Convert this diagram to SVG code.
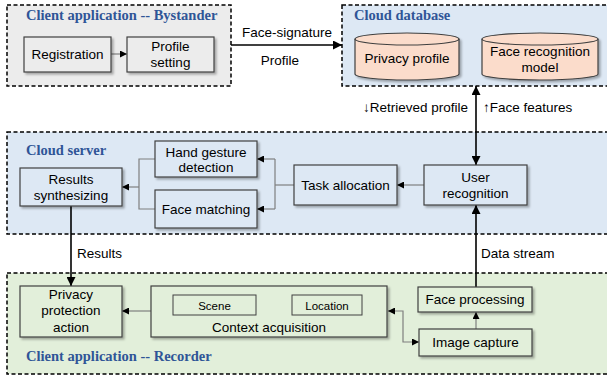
<svg xmlns="http://www.w3.org/2000/svg" width="607" height="379" viewBox="0 0 607 379">
<defs>
<marker id="ah" viewBox="0 0 10 10" refX="10" refY="5" markerWidth="7" markerHeight="7" markerUnits="userSpaceOnUse" orient="auto-start-reverse">
<path d="M0,0 L10,5 L0,10 z" fill="#000"/>
</marker>
<marker id="ahb" viewBox="0 0 10 10" refX="10" refY="5" markerWidth="9" markerHeight="9" markerUnits="userSpaceOnUse" orient="auto-start-reverse">
<path d="M0,0 L10,5 L0,10 z" fill="#000"/>
</marker>
<filter id="sh" x="-10%" y="-10%" width="130%" height="140%">
<feDropShadow dx="2" dy="2" stdDeviation="1.2" flood-color="#000" flood-opacity="0.3"/>
</filter>
</defs>
<style>
.panel{stroke:#000;stroke-width:1.5;stroke-dasharray:4 2.5}
.gray{fill:#ececec}.blue{fill:#dde8f4}.green{fill:#e2efda}
.box{stroke:#404040;stroke-width:1.2;filter:url(#sh)}
.cyl{fill:#fbdccb;stroke:#404040;stroke-width:1.2}
.t{font-family:"Liberation Sans",Arial,sans-serif;font-size:13.5px;fill:#000;text-anchor:middle}
.s{font-size:11.5px}
.l{font-family:"Liberation Sans",Arial,sans-serif;font-size:13.5px;fill:#000}
.title{font-family:"Liberation Serif","Times New Roman",serif;font-weight:bold;font-size:14.5px;fill:#2f5597}
.c{fill:none;stroke:#7f7f7f;stroke-width:1.2}
.k{fill:none;stroke:#000;stroke-width:1.6}
</style>

<g id="panel-bystander">
<rect class="panel gray" x="7" y="5" width="224" height="81"/>
<text class="title" x="26" y="20">Client application -- Bystander</text>
</g>
<g id="panel-clouddb">
<rect class="panel blue" x="342" y="5" width="272" height="81"/>
<text class="title" x="354" y="20">Cloud database</text>
</g>
<g id="panel-cloudserver">
<rect class="panel blue" x="7" y="132" width="607" height="102"/>
<text class="title" x="26" y="155">Cloud server</text>
</g>
<g id="panel-recorder">
<rect class="panel green" x="7" y="273" width="607" height="101"/>
<text class="title" x="26" y="361">Client application -- Recorder</text>
</g>

<g id="connectors">
<line class="c" x1="111" y1="54" x2="127" y2="54" marker-end="url(#ah)"/>
<line class="k" x1="231" y1="45" x2="342" y2="45" marker-end="url(#ahb)"/>
<line class="k" x1="476" y1="86" x2="476" y2="165" marker-start="url(#ahb)" marker-end="url(#ahb)"/>
<line class="c" x1="424" y1="185" x2="397" y2="185" marker-end="url(#ah)"/>
<polyline class="c" points="294,185 275,185"/>
<polyline class="c" points="275,159 275,209"/>
<line class="c" x1="275" y1="159" x2="257" y2="159" marker-end="url(#ah)"/>
<line class="c" x1="275" y1="209" x2="257" y2="209" marker-end="url(#ah)"/>
<polyline class="c" points="155,159 139,159 139,209 155,209"/>
<line class="c" x1="139" y1="187" x2="122" y2="187" marker-end="url(#ah)"/>
<line class="k" x1="71" y1="206" x2="71" y2="286" marker-end="url(#ahb)"/>
<line class="c" x1="151" y1="311" x2="122" y2="311" marker-end="url(#ah)"/>
<polyline class="c" points="388,311 403,311 403,342 419,342" marker-start="url(#ah)" marker-end="url(#ah)"/>
<line class="c" x1="476" y1="329" x2="476" y2="312" marker-end="url(#ah)"/>
<line class="k" x1="476" y1="287" x2="476" y2="205" marker-end="url(#ahb)"/>
<text class="t" x="287" y="37">Face-signature</text>
<text class="t" x="280" y="65">Profile</text>
<text class="l" x="468" y="112" text-anchor="end">↓Retrieved profile</text>
<text class="l" x="483" y="112">↑Face features</text>
<text class="l" x="77" y="258">Results</text>
<text class="l" x="481" y="258">Data stream</text>
</g>

<g id="registration">
<rect class="box gray" x="24" y="37" width="87" height="35"/>
<text class="t" x="67.5" y="59">Registration</text>
</g>
<g id="profile-setting">
<rect class="box gray" x="127" y="37" width="87" height="35"/>
<text class="t" x="170.5" y="51">Profile</text>
<text class="t" x="170.5" y="67">setting</text>
</g>
<g id="privacy-profile">
<path class="cyl" d="M355,39 L355,74 A52,6 0 0 0 459,74 L459,39 A52,6 0 0 0 355,39 Z" filter="url(#sh)"/>
<path d="M355,39 A52,6 0 0 0 459,39" fill="none" stroke="#404040" stroke-width="1.2"/>
<text class="t" x="407" y="63">Privacy profile</text>
</g>
<g id="face-recognition-model">
<path class="cyl" d="M482,39 L482,74 A58,6 0 0 0 598,74 L598,39 A58,6 0 0 0 482,39 Z" filter="url(#sh)"/>
<path d="M482,39 A58,6 0 0 0 598,39" fill="none" stroke="#404040" stroke-width="1.2"/>
<text class="t" x="540" y="56">Face recognition</text>
<text class="t" x="540" y="72">model</text>
</g>
<g id="results-synthesizing">
<rect class="box blue" x="20" y="168" width="102" height="38"/>
<text class="t" x="71" y="184">Results</text>
<text class="t" x="71" y="200">synthesizing</text>
</g>
<g id="hand-gesture-detection">
<rect class="box blue" x="155" y="141" width="102" height="36"/>
<text class="t" x="206" y="157">Hand gesture</text>
<text class="t" x="206" y="172">detection</text>
</g>
<g id="face-matching">
<rect class="box blue" x="155" y="190" width="102" height="38"/>
<text class="t" x="206" y="214">Face matching</text>
</g>
<g id="task-allocation">
<rect class="box blue" x="294" y="165" width="103" height="40"/>
<text class="t" x="345.5" y="190">Task allocation</text>
</g>
<g id="user-recognition">
<rect class="box blue" x="424" y="165" width="103" height="40"/>
<text class="t" x="475.5" y="182">User</text>
<text class="t" x="475.5" y="198">recognition</text>
</g>
<g id="privacy-protection-action">
<rect class="box green" x="20" y="286" width="102" height="51"/>
<text class="t" x="71" y="299">Privacy</text>
<text class="t" x="71" y="315">protection</text>
<text class="t" x="71" y="332">action</text>
</g>
<g id="context-acquisition">
<rect class="box green" x="151" y="286" width="236" height="51"/>
<rect x="173" y="295" width="83" height="20" fill="#e2efda" stroke="#404040" stroke-width="1"/>
<text class="t s" x="214.5" y="309.5">Scene</text>
<rect x="292" y="295" width="70" height="20" fill="#e2efda" stroke="#404040" stroke-width="1"/>
<text class="t s" x="327" y="309.5">Location</text>
<text class="t" x="269" y="332">Context acquisition</text>
</g>
<g id="face-processing">
<rect class="box green" x="418" y="287" width="114" height="25"/>
<text class="t" x="475" y="304">Face processing</text>
</g>
<g id="image-capture">
<rect class="box green" x="419" y="329" width="113" height="27"/>
<text class="t" x="475.5" y="347">Image capture</text>
</g>
</svg>
